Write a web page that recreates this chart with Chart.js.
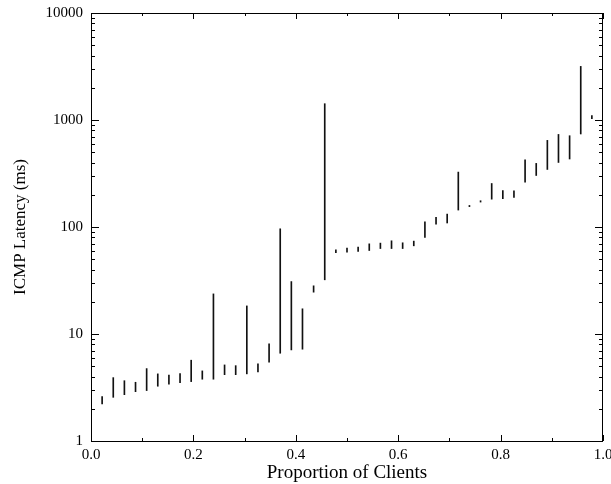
<!DOCTYPE html>
<html>
<head>
<meta charset="utf-8">
<script src="https://cdn.jsdelivr.net/npm/chart.js@4.4.1/dist/chart.umd.min.js"></script>
<style>
  html, body { margin: 0; padding: 0; background: #fff; }
  #wrap { width: 611px; height: 484px; }
</style>
</head>
<body>
<div id="wrap"><canvas id="latency"></canvas></div>
<script>
// client positions (proportion of clients), one range per client group
const proportion = [];
for (let i = 1; i <= 45; i++) proportion.push(i / 46);

// lower and upper ICMP latency (ms) for each group
const latencyLow = [
  2.22, 2.56, 2.71, 2.89, 2.96, 3.25, 3.39, 3.51, 3.59, 3.78,
  3.78, 4.17, 4.17, 4.24, 4.42, 5.45, 6.61, 7.10, 7.21, 24.6,
  32.1, 57.7, 58.2, 59.0, 60.3, 62.9, 62.9, 62.9, 66.7, 79.8,
  106, 109, 144, 155, 171, 182, 184, 189, 263, 303,
  345, 401, 432, 740, 1028
];
const latencyHigh = [
  2.60, 3.91, 3.66, 3.54, 4.75, 4.24, 4.14, 4.26, 5.69, 4.52,
  23.7, 5.14, 5.06, 18.3, 5.25, 8.08, 96.2, 30.9, 17.2, 28.2,
  1420, 61.2, 63.5, 64.9, 69.6, 70.7, 74.3, 71.2, 73.8, 112,
  123, 132, 326, 159, 176, 255, 219, 218, 425, 393,
  645, 733, 713, 3170, 1097
];

const xTickLabels = [0, 0.2, 0.4, 0.6, 0.8, 1.0];
const yTickLabels = [1, 10, 100, 1000, 10000];

const serif = "'Liberation Serif', 'DejaVu Serif', serif";

// gnuplot style frame with inward ticks on all four sides
const frameTicks = {
  id: "frameTicks",
  afterDatasetsDraw(chart) {
    const { ctx, chartArea: a, scales } = chart;
    const xs = scales.x;
    const ys = scales.y;
    ctx.save();
    ctx.strokeStyle = "#000";
    ctx.lineWidth = 1;
    ctx.strokeRect(Math.round(a.left) + 0.5, Math.round(a.top) + 0.5,
      Math.round(a.right - a.left) - 1, Math.round(a.bottom - a.top));
    ctx.beginPath();
    for (let d = 1; d < 10000; d *= 10) {
      for (let k = 1; k <= 9; k++) {
        const y = Math.round(ys.getPixelForValue(k * d)) + 0.5;
        const len = k === 1 ? 8 : 4;
        ctx.moveTo(a.left, y); ctx.lineTo(a.left + len, y);
        ctx.moveTo(a.right, y); ctx.lineTo(a.right - len, y);
      }
    }
    for (let i = 0; i <= 10; i++) {
      const x = Math.round(xs.getPixelForValue(i / 10)) + 0.5;
      const len = i % 2 === 0 ? 6 : 3;
      ctx.moveTo(x, a.bottom); ctx.lineTo(x, a.bottom - len);
      ctx.moveTo(x, a.top); ctx.lineTo(x, a.top + len);
    }
    ctx.stroke();
    ctx.restore();
  },
};

new Chart(document.getElementById("latency"), {
  type: "bar",
  plugins: [frameTicks],
  data: {
    datasets: [
      {
        data: proportion.map((p, i) => ({ x: p, y: [latencyLow[i], latencyHigh[i]] })),
        backgroundColor: "#111",
        borderWidth: 0,
        barThickness: 1,
        minBarLength: 1,
      },
    ],
  },
  options: {
    responsive: true,
    maintainAspectRatio: false,
    animation: false,
    layout: { padding: { top: 13, right: 8, left: 0, bottom: 0 } },
    plugins: { legend: { display: false }, tooltip: { enabled: false } },
    scales: {
      x: {
        type: "linear",
        offset: false,
        min: 0,
        max: 1,
        grid: { display: false, drawTicks: false },
        border: { display: false },
        afterBuildTicks: (s) => { s.ticks = xTickLabels.map((v) => ({ value: v })); },
        afterFit: (s) => { s.height = 43; s.paddingLeft = 0; s.paddingRight = 0; },
        ticks: {
          color: "#000",
          font: { family: serif, size: 15 },
          padding: 5,
          maxRotation: 0,
          autoSkip: false,
          callback: (v) => Number(v).toFixed(1),
        },
        title: {
          display: true,
          text: "Proportion of Clients",
          color: "#000",
          font: { family: serif, size: 19 },
          padding: { top: 0, bottom: 0 },
        },
      },
      y: {
        type: "logarithmic",
        min: 1,
        max: 10000,
        grid: { display: false, drawTicks: false },
        border: { display: false },
        afterBuildTicks: (s) => { s.ticks = yTickLabels.map((v) => ({ value: v })); },
        afterFit: (s) => { s.width = 91; s.paddingTop = 0; s.paddingBottom = 0; },
        ticks: {
          color: "#000",
          font: { family: serif, size: 15 },
          padding: 8,
          autoSkip: false,
          callback: (v) => String(v),
        },
        title: {
          display: true,
          text: "ICMP Latency (ms)",
          color: "#000",
          font: { family: serif, size: 17 },
          padding: { top: 10, bottom: 0 },
        },
      },
    },
  },
});
</script>
</body>
</html>
